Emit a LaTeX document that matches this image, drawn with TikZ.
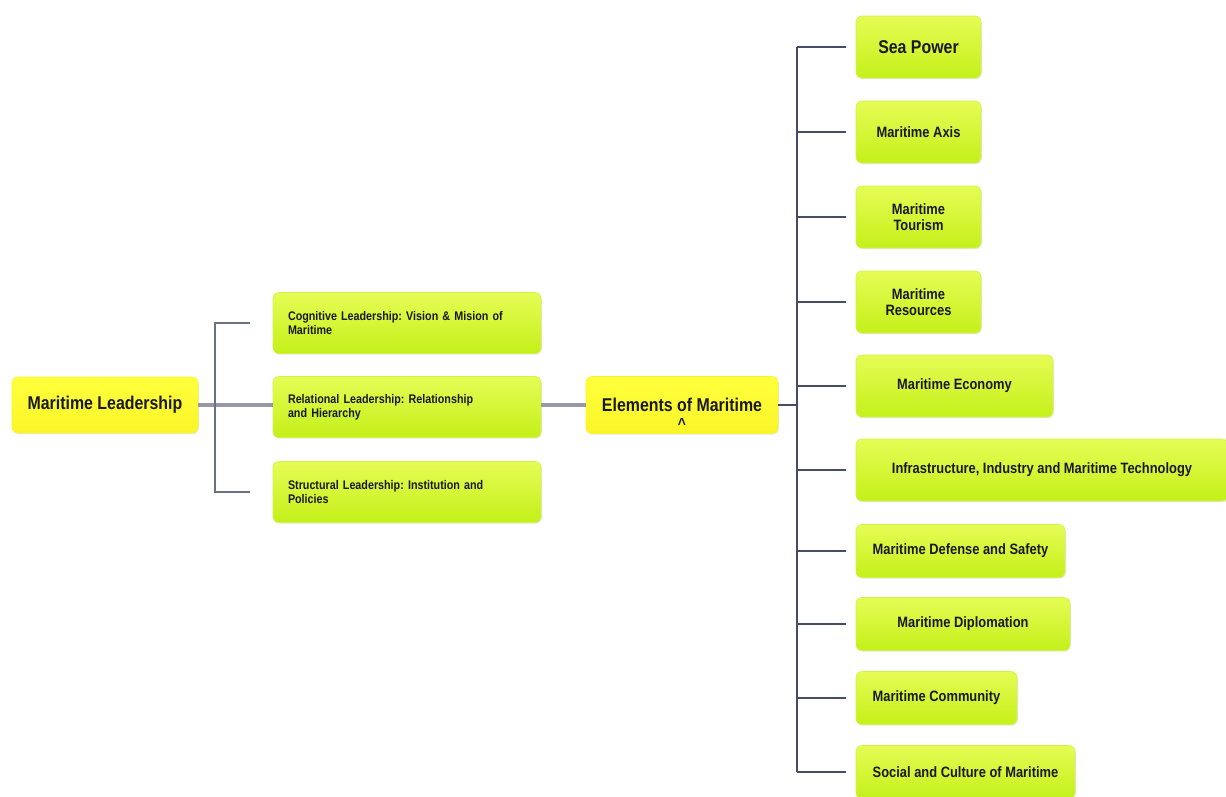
\documentclass[tikz,border=0pt]{standalone}
\usepackage{fontspec}
\setmainfont{Liberation Sans}[FakeStretch=0.86]
\usetikzlibrary{calc,shadows}
\definecolor{lime1}{RGB}{230,252,85}
\definecolor{lime2}{RGB}{196,240,25}
\definecolor{yel}{RGB}{255,255,60}
\definecolor{yel2}{RGB}{250,245,40}
\definecolor{conn}{RGB}{70,76,100}
\definecolor{mainconn}{RGB}{150,152,165}
\tikzset{
  box/.style={rectangle, rounded corners=6pt, top color=lime1, bottom color=lime2,
    draw=lime2!80!white, line width=0.6pt, font=\bfseries, text=black!90,
    drop shadow={shadow xshift=0.8pt, shadow yshift=-1.2pt, opacity=0.18}},
  ybox/.style={rectangle, rounded corners=6pt, top color=yel, bottom color=yel2,
    draw=yel2, line width=0.6pt, font=\bfseries, text=black!90,
    drop shadow={shadow xshift=0.8pt, shadow yshift=-1.2pt, opacity=0.18}},
  lbox/.style={box, minimum width=268pt, minimum height=61pt, text width=238pt,
    align=left, inner xsep=15pt, font=\bfseries\frenchspacing\fontsize{12.5}{14}\selectfont},
  rbox/.style={box, minimum height=62pt, align=center, font=\bfseries\fontsize{15}{16.5}\selectfont},
  br/.style={draw=conn, line width=1.3pt},
  mainline/.style={draw=mainconn, line width=3.5pt},
}
\begin{document}
\begin{tikzpicture}[x=1pt,y=-1pt]
\useasboundingbox[fill=white] (0,0) rectangle (1226,796);
% left part
\node[ybox, minimum width=186pt, minimum height=56pt, font=\bfseries\fontsize{18.5}{20}\selectfont] (ml) at (105,405) {Maritime Leadership};
\node[lbox] (cog) at (407,323) {Cognitive Leadership: Vision \& Mision of\\Maritime};
\node[lbox] (rel) at (407,407) {Relational Leadership: Relationship\\and Hierarchy};
\node[lbox] (str) at (407,492) {Structural Leadership: Institution and\\Policies};
\node[ybox, minimum width=192pt, minimum height=57pt, font=\bfseries\fontsize{18.5}{20}\selectfont,
  label={[yshift=-19pt, font=\bfseries\fontsize{16}{16}\selectfont, text=black!90]center:\textasciicircum}] (el) at (682,405) {Elements of Maritime};
% right column
\node[rbox, minimum width=125pt, font=\bfseries\fontsize{18.5}{20}\selectfont] (sp) at (918.5,47) {Sea Power};
\node[rbox, minimum width=125pt] (ax) at (918.5,132) {Maritime Axis};
\node[rbox, minimum width=125pt] (tou) at (918.5,217) {Maritime\\Tourism};
\node[rbox, minimum width=125pt] (res) at (918.5,302) {Maritime\\Resources};
\node[rbox, minimum width=197pt] (eco) at (954.5,386) {Maritime Economy};
\node[rbox, minimum width=372pt] (inf) at (1042,470) {Infrastructure, Industry and Maritime Technology};
\node[rbox, minimum width=209pt, minimum height=53pt] (def) at (960.5,551) {Maritime Defense and Safety};
\node[rbox, minimum width=214pt, minimum height=53pt] (dip) at (963,624) {Maritime Diplomation};
\node[rbox, minimum width=161pt, minimum height=53pt] (com) at (936.5,698) {Maritime Community};
\node[rbox, minimum width=219pt, minimum height=53pt] (soc) at (965.5,772) {Social and Culture of Maritime};
% connectors left
\coordinate (lb) at (215,405);
\draw[mainline] (ml.east) -- (ml.east -| rel.west);
\draw[mainline] (ml.east -| rel.east) -- (ml.east -| el.west);
\draw[br, draw=conn!80!white] ($(cog.west)+(-23,0)$) -| (lb) |- ($(str.west)+(-23,0)$);
% connectors right
\coordinate (rb) at (797,405);
\draw[br] (ml.east -| el.east) -- (rb);
\draw[br] (rb |- sp) -- (rb |- soc);
\foreach \n in {sp,ax,tou,res,eco,inf,def,dip,com,soc}{
  \draw[br] (rb |- \n) -- ($(\n.west)+(-10,0)$);
}
\end{tikzpicture}
\end{document}
